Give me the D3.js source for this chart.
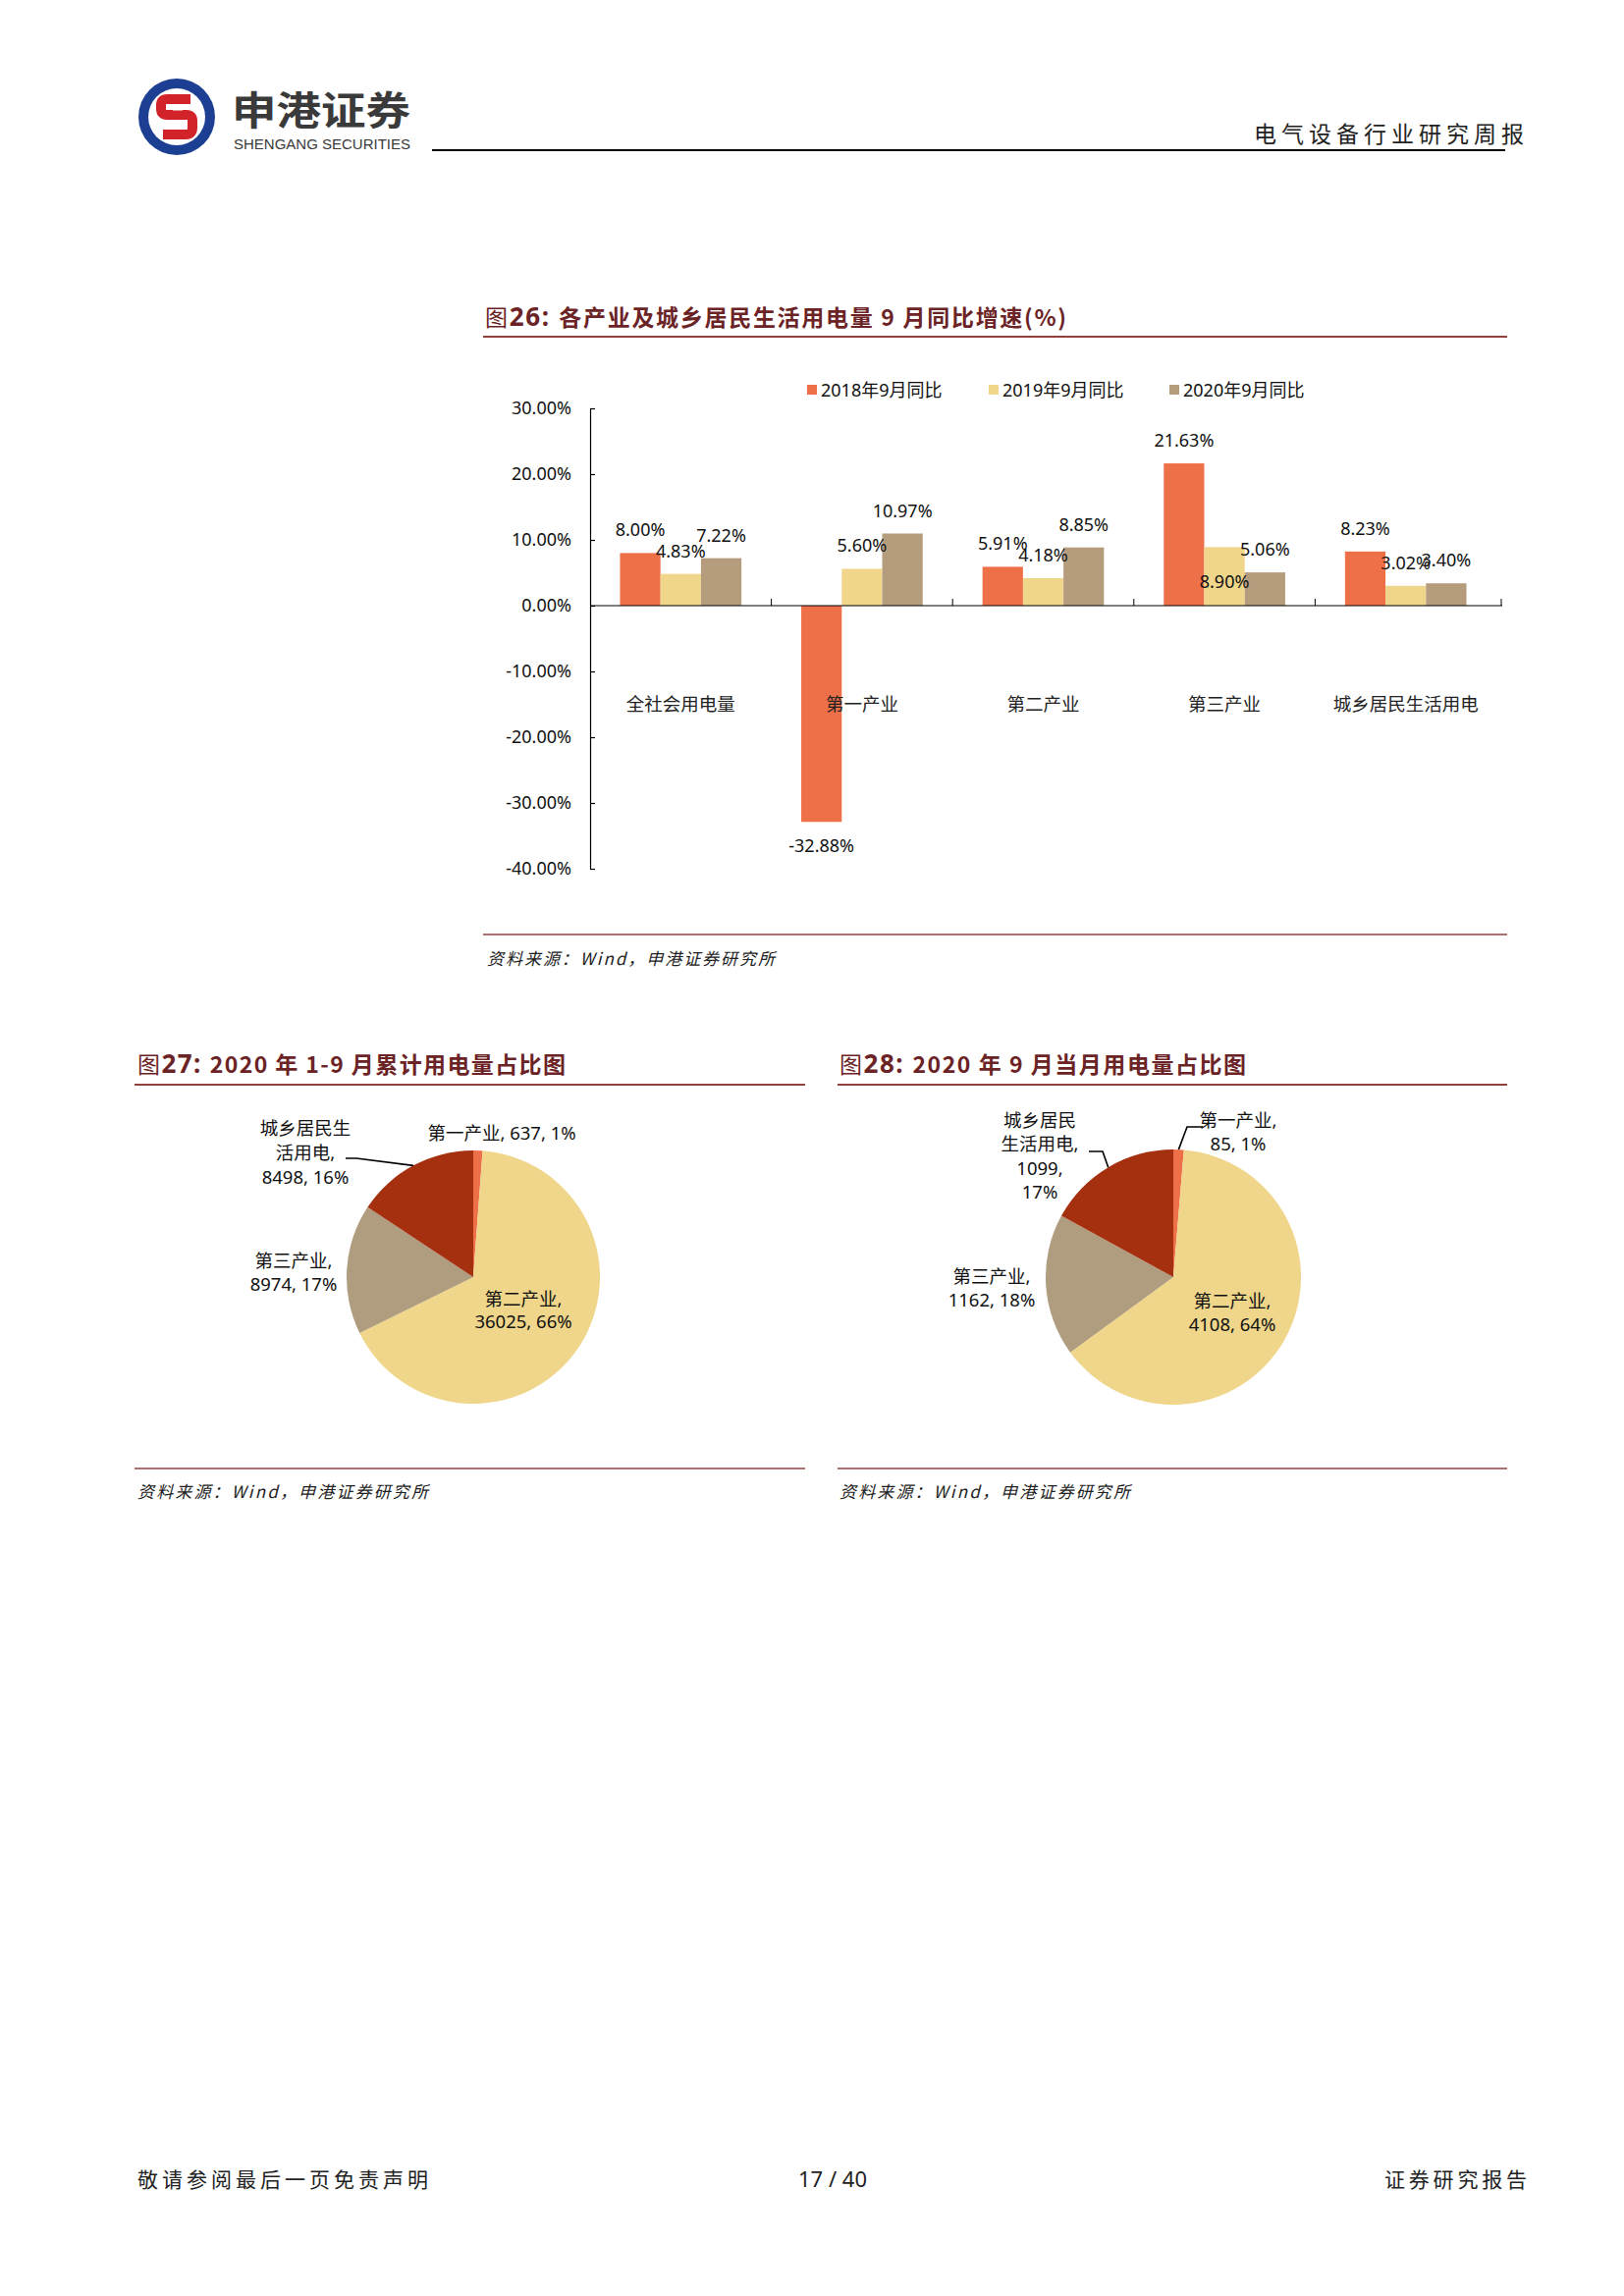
<!DOCTYPE html>
<html><head><meta charset="utf-8">
<script src="https://cdn.jsdelivr.net/npm/d3@7/dist/d3.min.js"></script>
<style>
html,body{margin:0;padding:0;background:#fff;}
svg{display:block;}
</style>
</head><body>
<script>
// ---------------- DATA ----------------
const categories = ['全社会用电量','第一产业','第二产业','第三产业','城乡居民生活用电'];
const seriesNames = ['2018年9月同比','2019年9月同比','2020年9月同比'];
const v2018 = [8.00,-32.88,5.91,21.63,8.23];
const v2019 = [4.83,5.60,4.18,8.90,3.02];
const v2020 = [7.22,10.97,8.85,5.06,3.40];
const yTicks = [-40,-30,-20,-10,0,10,20,30];

const pieCats = ['第一产业','第二产业','第三产业','城乡居民生活用电'];
const pie27Values = [637,36025,8974,8498];
const pie27Pct = ['1%','66%','17%','16%'];
const pie28Values = [85,4108,1162,1099];
const pie28Pct = ['1%','64%','18%','17%'];

// ---------------- STYLE ----------------
const barColors = ['#EE7048','#EFD68A','#B59C7C'];
const pieColors = ['#EE7048','#EFD68A','#B09C7E','#A5300F'];
const titleColor = '#6B2326';
const ruleColor = '#94403C';
const NUM = "'Noto Sans','Noto Sans CJK SC',sans-serif";
const CJK = "'Noto Sans CJK SC','Noto Sans',sans-serif";

const W = 1654, H = 2339;
const svg = d3.select('body').append('svg').attr('width',W).attr('height',H)
  .attr('viewBox',`0 0 ${W} ${H}`);
svg.append('rect').attr('width',W).attr('height',H).attr('fill','#fff');

// ---------------- HEADER ----------------
const logo = svg.append('g');
logo.append('circle').attr('cx',180).attr('cy',119).attr('r',39).attr('fill','#1D3F93');
logo.append('circle').attr('cx',180).attr('cy',119).attr('r',29).attr('fill','#fff');
logo.append('path')
  .attr('d','M194,101 L170,101 Q164,101 164,107 L164,111 Q164,117 170,117 L190,117 Q196,117 196,123 L196,130 Q196,137 189,137 L166,137')
  .attr('fill','none').attr('stroke','#D2232A').attr('stroke-width',10).attr('stroke-linejoin','round');
logo.append('path').attr('d','M176,111 L186,111 M174,127 L184,127').attr('stroke','#fff').attr('stroke-width',3);
svg.append('text').attr('x',236).attr('y',110).attr('dominant-baseline','central')
  .attr('font-family',CJK).attr('font-weight',700).attr('font-size',40).attr('fill','#3A3A3A')
  .attr('textLength',182).attr('lengthAdjust','spacingAndGlyphs').text('申港证券');
svg.append('text').attr('x',238).attr('y',152)
  .attr('font-family',"'Liberation Sans',Arial,sans-serif").attr('font-size',14).attr('fill','#3A3A3A')
  .attr('textLength',180).attr('lengthAdjust','spacingAndGlyphs').text('SHENGANG SECURITIES');
svg.append('line').attr('x1',440).attr('x2',1533).attr('y1',153).attr('y2',153)
  .attr('stroke','#000').attr('stroke-width',2.2);
svg.append('text').attr('x',1277).attr('y',135).attr('dominant-baseline','central')
  .attr('font-family',CJK).attr('font-size',23).attr('fill','#222')
  .attr('textLength',275).attr('lengthAdjust','spacing').text('电气设备行业研究周报');

// ---------------- helpers ----------------
function figTitle(x, y, num, rest, width){
  const t = svg.append('text').attr('x',x).attr('y',y).attr('dominant-baseline','central')
    .attr('font-family',CJK).attr('fill',titleColor).attr('font-size',23)
    .attr('textLength',width).attr('lengthAdjust','spacing');
  t.append('tspan').attr('font-weight',400).text('图');
  t.append('tspan').attr('font-weight',700).attr('font-family',NUM).attr('font-size',26).text(num+': ');
  t.append('tspan').attr('font-weight',700).text(rest);
}
function rule(x1,x2,y,w){
  svg.append('line').attr('x1',x1).attr('x2',x2).attr('y1',y).attr('y2',y)
    .attr('stroke',ruleColor).attr('stroke-width',w);
}
function source(x,y,width){
  svg.append('text').attr('x',x).attr('y',y).attr('dominant-baseline','central')
    .attr('font-family',CJK).attr('font-style','italic').attr('font-size',17).attr('fill','#222')
    .attr('textLength',width).attr('lengthAdjust','spacing')
    .text('资料来源：Wind，申港证券研究所');
}

// ---------------- BAR CHART ----------------
figTitle(494, 322, '26', '各产业及城乡居民生活用电量 9 月同比增速(%)', 592);
rule(492,1535,343,2);

const y = d3.scaleLinear().domain([-40,30]).range([885,416]);
const x0 = d3.scaleBand().domain(categories).range([601,1524]);
const bw = x0.bandwidth();
const x1 = d3.scaleBand().domain(seriesNames).range([bw*0.165, bw*0.835]);
const seriesVals = [v2018, v2019, v2020];

const gBar = svg.append('g');
// y axis
const yAxis = d3.axisLeft(y).tickValues(yTicks).tickFormat(d => d.toFixed(2)+'%')
  .tickSizeInner(-5).tickSizeOuter(0).tickPadding(19);
const ya = gBar.append('g').attr('transform','translate(601,0)').call(yAxis);
ya.select('.domain').attr('stroke','#000').attr('stroke-width',1.2);
ya.selectAll('.tick line').attr('stroke','#000').attr('stroke-width',1.2);
ya.selectAll('.tick text').attr('font-family',NUM).attr('font-size',18).attr('fill','#111');

// bars
seriesNames.forEach((s, si) => {
  gBar.append('g').selectAll('rect').data(categories).join('rect')
    .attr('x', c => x0(c) + x1(s))
    .attr('width', x1.bandwidth())
    .attr('y', (c,i) => y(Math.max(0, seriesVals[si][i])))
    .attr('height', (c,i) => Math.abs(y(seriesVals[si][i]) - y(0)))
    .attr('fill', barColors[si]);
});
// x axis line + category ticks
gBar.append('line').attr('x1',601).attr('x2',1530).attr('y1',y(0)).attr('y2',y(0))
  .attr('stroke','#000').attr('stroke-width',1.2);
categories.forEach((c,i) => {
  if (i === 0) return;
  gBar.append('line').attr('x1',x0(c)).attr('x2',x0(c)).attr('y1',y(0)-7).attr('y2',y(0))
    .attr('stroke','#000').attr('stroke-width',1);
});
gBar.append('line').attr('x1',1529).attr('x2',1529).attr('y1',y(0)-7).attr('y2',y(0))
  .attr('stroke','#000').attr('stroke-width',1);
// category labels
gBar.append('g').selectAll('text').data(categories).join('text')
  .attr('x', c => x0(c) + bw/2).attr('y', 716).attr('text-anchor','middle').attr('dominant-baseline','central')
  .attr('font-family',CJK).attr('font-size',18.5).attr('fill','#222').text(c => c);
// data labels
seriesNames.forEach((s, si) => {
  gBar.append('g').selectAll('text').data(categories).join('text')
    .attr('x', c => x0(c) + x1(s) + x1.bandwidth()/2)
    .attr('y', (c,i) => {
      const v = seriesVals[si][i];
      if (si === 1 && i === 3) return y(v) + 35;   // label placed inside bar in reference
      return v >= 0 ? y(v) - 24 : y(v) + 24;
    })
    .attr('text-anchor','middle').attr('dominant-baseline','central')
    .attr('font-family',NUM).attr('font-size',18).attr('fill','#111')
    .text((c,i) => seriesVals[si][i].toFixed(2)+'%');
});
// legend
const legX = [822, 1007, 1191];
seriesNames.forEach((s, si) => {
  gBar.append('rect').attr('x',legX[si]).attr('y',392).attr('width',10).attr('height',10).attr('fill',barColors[si]);
  gBar.append('text').attr('x',legX[si]+14).attr('y',397).attr('dominant-baseline','central')
    .attr('font-family',NUM).attr('font-size',18).attr('fill','#111').text(s);
});

rule(492,1535,952,1.5);
source(496,975,293);

// ---------------- PIE CHARTS ----------------
function drawPie(cx, cy, r, values, pcts, labelSpecs){
  const g = svg.append('g').attr('transform',`translate(${cx},${cy})`);
  const arcs = d3.pie().sort(null).value(d => d)(values);
  const arc = d3.arc().innerRadius(0).outerRadius(r);
  g.selectAll('path').data(arcs).join('path').attr('d',arc)
    .attr('fill',(d,i) => pieColors[i]);
  labelSpecs.forEach(spec => {
    const i = spec.idx;
    const lines = spec.lines(pieCats[i], values[i], pcts[i]);
    const t = g.append('text').attr('text-anchor','middle')
      .attr('font-family',NUM).attr('font-size',18.5).attr('fill','#111');
    lines.forEach((ln, k) => {
      t.append('tspan').attr('x',spec.dx).attr('y',spec.dy + k*spec.lh)
        .attr('dominant-baseline','central').text(ln);
    });
    if (spec.leader) {
      const a = arcs[i];
      const mid = (a.startAngle + a.endAngle)/2;
      const ex = r*Math.sin(mid), ey = -r*Math.cos(mid);
      const [sx, sy, kx] = spec.leader;
      g.append('path').attr('d',`M${sx},${sy}L${kx},${sy}L${ex},${ey}`)
        .attr('fill','none').attr('stroke','#000').attr('stroke-width',1.6);
    }
  });
}

// Figure 27
figTitle(140, 1083, '27', '2020 年 1-9 月累计用电量占比图', 436);
rule(137,820,1105,2);
drawPie(482, 1301, 129, pie27Values, pie27Pct, [
  {idx:0, dx:29, dy:-148, lh:25, lines:(n,v,p)=>[`${n}, ${v}, ${p}`]},
  {idx:3, dx:-171, dy:-153, lh:25, lines:(n,v,p)=>[n.slice(0,5), n.slice(5)+',', `${v}, ${p}`], leader:[-130,-121,-119]},
  {idx:2, dx:-183, dy:-18, lh:24, lines:(n,v,p)=>[n+',', `${v}, ${p}`]},
  {idx:1, dx:51, dy:21, lh:23, lines:(n,v,p)=>[n+',', `${v}, ${p}`]}
]);
rule(137,820,1496,1.5);
source(140,1518,296);

// Figure 28
figTitle(855, 1083, '28', '2020 年 9 月当月用电量占比图', 414);
rule(853,1535,1105,2);
drawPie(1195, 1301, 130, pie28Values, pie28Pct, [
  {idx:0, dx:66, dy:-161, lh:24, lines:(n,v,p)=>[n+',', `${v}, ${p}`], leader:[30,-153,14]},
  {idx:3, dx:-136, dy:-161, lh:24.5, lines:(n,v,p)=>[n.slice(0,4), n.slice(4)+',', `${v},`, p], leader:[-86,-128,-72]},
  {idx:2, dx:-185, dy:-2, lh:24, lines:(n,v,p)=>[n+',', `${v}, ${p}`]},
  {idx:1, dx:60, dy:23, lh:24, lines:(n,v,p)=>[n+',', `${v}, ${p}`]}
]);
rule(853,1535,1496,1.5);
source(855,1518,296);

// ---------------- FOOTER ----------------
svg.append('text').attr('x',140).attr('y',2219).attr('dominant-baseline','central')
  .attr('font-family',CJK).attr('font-size',21).attr('fill','#222')
  .attr('textLength',296).attr('lengthAdjust','spacing').text('敬请参阅最后一页免责声明');
svg.append('text').attr('x',848).attr('y',2219).attr('dominant-baseline','central').attr('text-anchor','middle')
  .attr('font-family',NUM).attr('font-size',22).attr('fill','#222').text('17 / 40');
svg.append('text').attr('x',1410).attr('y',2219).attr('dominant-baseline','central')
  .attr('font-family',CJK).attr('font-size',21).attr('fill','#222')
  .attr('textLength',145).attr('lengthAdjust','spacing').text('证券研究报告');
</script>
</body></html>
